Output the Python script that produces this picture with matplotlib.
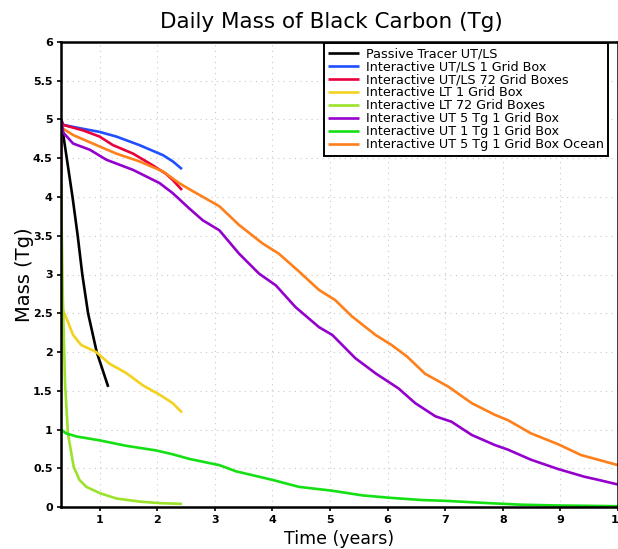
import matplotlib
matplotlib.use('Agg')
import matplotlib.pyplot as plt

# dane (czas w latach, masa w Tg)
labels = ['Passive Tracer UT/LS', 'Interactive UT/LS 1 Grid Box',
          'Interactive UT/LS 72 Grid Boxes', 'Interactive LT 1 Grid Box',
          'Interactive LT 72 Grid Boxes', 'Interactive UT 5 Tg 1 Grid Box',
          'Interactive UT 1 Tg 1 Grid Box', 'Interactive UT 5 Tg 1 Grid Box Ocean']
colors = ['black', '#1f4fff', '#e8003c', '#f2d21e', '#9be22a', '#9400cc', '#14e014', '#ff7f1a']

t_passive = [0.33, 0.38, 0.43, 0.53, 0.62, 0.70, 0.80, 0.95, 1.15]
m_passive = [5.0, 4.75, 4.5, 4.0, 3.5, 3.0, 2.5, 2.0, 1.55]

t_utls1 = [0.33, 0.37, 0.71, 1.0, 1.29, 1.69, 2.10, 2.27, 2.43]
m_utls1 = [5.0, 4.93, 4.88, 4.84, 4.78, 4.67, 4.54, 4.46, 4.36]

t_utls72 = [0.33, 0.37, 0.71, 1.0, 1.23, 1.58, 1.92, 2.15, 2.27, 2.43]
m_utls72 = [5.0, 4.93, 4.86, 4.78, 4.67, 4.56, 4.41, 4.30, 4.22, 4.09]

t_lt1 = [0.33, 0.36, 0.45, 0.54, 0.68, 0.94, 1.17, 1.46, 1.75, 2.04, 2.27, 2.43]
m_lt1 = [2.75, 2.55, 2.39, 2.22, 2.09, 2.0, 1.85, 1.73, 1.57, 1.45, 1.34, 1.22]

t_lt72 = [0.33, 0.331, 0.36, 0.40, 0.45, 0.55, 0.65, 0.77, 1.0, 1.29, 1.69, 2.04, 2.43]
m_lt72 = [0.0, 4.15, 2.75, 1.6, 0.95, 0.52, 0.35, 0.26, 0.18, 0.11, 0.07, 0.05, 0.04]

t_ut5 = [0.33, 0.331, 0.37, 0.54, 0.83, 1.12, 1.58, 2.04, 2.27, 2.56, 2.79, 3.08, 3.42, 3.77,
         4.06, 4.40, 4.81, 5.04, 5.44, 5.8, 6.19, 6.48, 6.83, 7.11, 7.46, 7.86, 8.09, 8.49,
         8.96, 9.42, 9.66, 10.0]
m_ut5 = [4.3, 5.0, 4.83, 4.69, 4.61, 4.48, 4.35, 4.18, 4.05, 3.85, 3.70, 3.57, 3.27, 3.01,
         2.86, 2.58, 2.32, 2.22, 1.92, 1.72, 1.53, 1.34, 1.17, 1.10, 0.93, 0.80, 0.74, 0.61,
         0.49, 0.39, 0.35, 0.29]

t_ut1 = [0.33, 0.42, 0.60, 1.0, 1.46, 1.98, 2.27, 2.56, 3.08, 3.37, 4.0, 4.46, 5.04, 5.56,
         6.02, 6.59, 6.99, 7.75, 8.32, 8.9, 10.0]
m_ut1 = [1.0, 0.95, 0.91, 0.86, 0.79, 0.73, 0.68, 0.62, 0.54, 0.46, 0.35, 0.26, 0.21, 0.15,
         0.12, 0.09, 0.08, 0.05, 0.03, 0.02, 0.01]

t_ocean = [0.33, 0.331, 0.37, 0.54, 0.88, 1.29, 1.69, 2.10, 2.38, 2.56, 3.08, 3.42, 3.83, 4.11,
           4.46, 4.81, 5.09, 5.38, 5.79, 6.07, 6.34, 6.65, 7.06, 7.46, 7.86, 8.09, 8.49, 8.96,
           9.36, 10.0]
m_ocean = [4.12, 4.95, 4.88, 4.80, 4.69, 4.56, 4.46, 4.33, 4.18, 4.10, 3.88, 3.64, 3.40, 3.27,
           3.04, 2.80, 2.67, 2.46, 2.22, 2.09, 1.94, 1.72, 1.55, 1.34, 1.19, 1.12, 0.95, 0.81,
           0.67, 0.54]

x_ticks = [1, 2, 3, 4, 5, 6, 7, 8, 9, 10]
y_ticks = [0, 0.5, 1, 1.5, 2, 2.5, 3, 3.5, 4, 4.5, 5, 5.5, 6]
y_ticklabels = ['0', '0.5', '1', '1.5', '2', '2.5', '3', '3.5', '4', '4.5', '5', '5.5', '6']

series = [(t_passive, m_passive), (t_utls1, m_utls1), (t_utls72, m_utls72), (t_lt1, m_lt1),
          (t_lt72, m_lt72), (t_ut5, m_ut5), (t_ut1, m_ut1), (t_ocean, m_ocean)]

plt.rcParams['font.family'] = ['DejaVu Sans']
fig = plt.figure(figsize=(6.18, 5.49), dpi=100)
ax = fig.add_axes([0.0987, 0.0765, 0.9013, 0.847])

for i, (t, m) in enumerate(series):
    z = 3.5 if i == 5 else 3  # fioletowa nad pomaranczowa przy osi
    ax.plot(t, m, color=colors[i], linewidth=1.9, label=labels[i], zorder=z,
            solid_capstyle='butt')

ax.set_xlim(0.33, 10)
ax.set_ylim(0, 6)
ax.set_xticks(x_ticks)
ax.set_yticks(y_ticks)
ax.set_yticklabels(y_ticklabels)
ax.tick_params(direction='out', length=3, width=1.2, labelsize=8, pad=3)
for lab in ax.get_xticklabels() + ax.get_yticklabels():
    lab.set_fontweight('bold')

ax.grid(True, linestyle=(0, (1, 4)), color='#c8c8c8', linewidth=0.8, zorder=0)
for s in ax.spines.values():
    s.set_linewidth(1.8)
    s.set_zorder(5)

fig.text(0.536, 0.96, 'Daily Mass of Black Carbon (Tg)', ha='center', va='center', fontsize=15.5)
ax.set_xlabel('Time (years)', fontsize=12.5, labelpad=3)
ax.set_ylabel('Mass (Tg)', fontsize=14, labelpad=-1)

leg = ax.legend(loc='upper left', fontsize=9.2, frameon=True, fancybox=False, framealpha=1,
                edgecolor='black', handlelength=2.4, handletextpad=0.5,
                labelspacing=0.0, borderpad=0.35, borderaxespad=0)
leg.get_frame().set_linewidth(1.4)
leg.set_zorder(10)
leg.set_bbox_to_anchor((324 / 618, 1 - 43 / 549), transform=fig.transFigure)

fig.savefig('out.png', dpi=100)
